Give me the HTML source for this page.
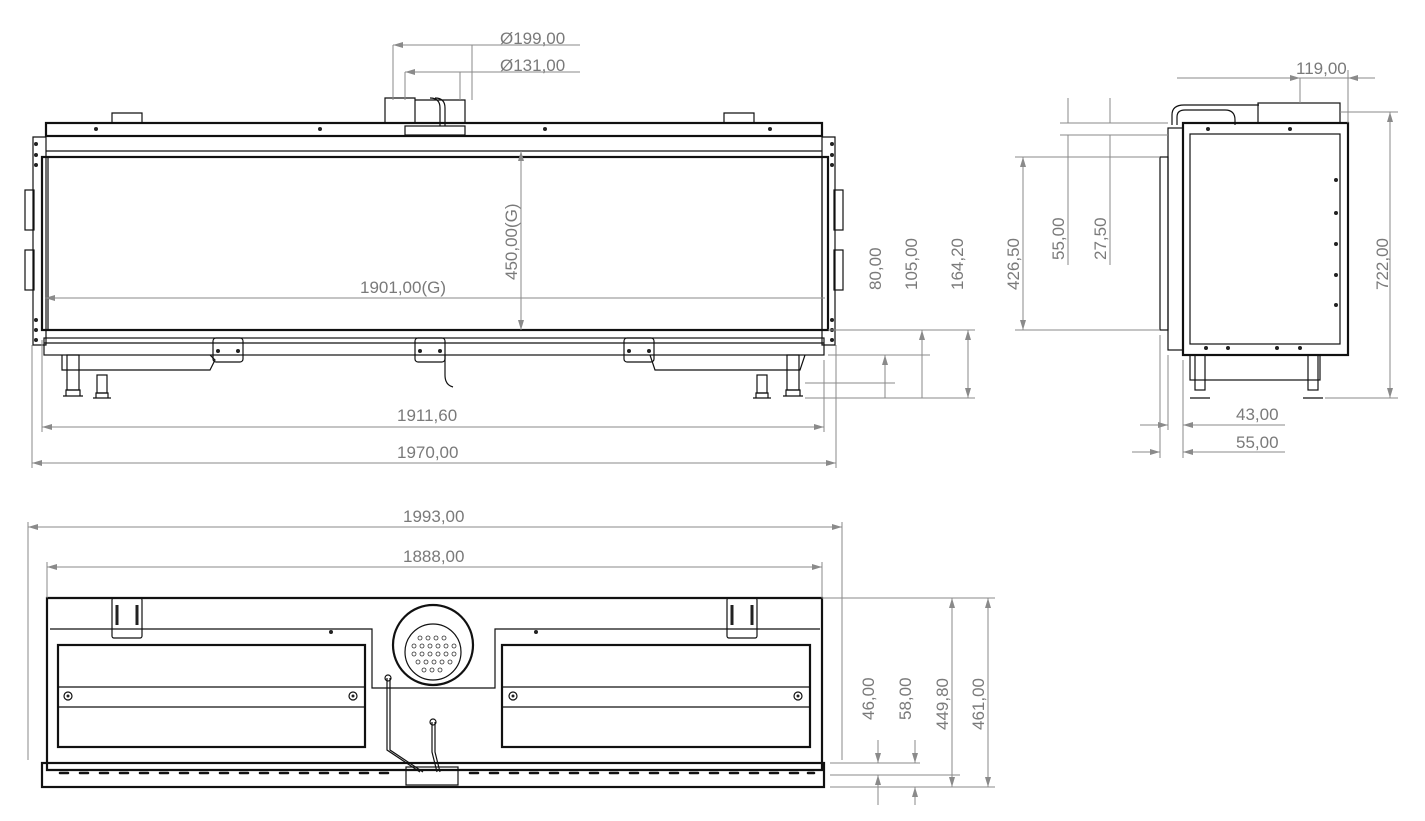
<!DOCTYPE html>
<html><head><meta charset="utf-8"><style>
html,body{margin:0;padding:0;background:#fff;}
svg{display:block;}
.d{stroke:#8a8a8a;stroke-width:1;fill:none;}
.t{font-family:"Liberation Sans",sans-serif;font-size:17px;fill:#7a7a7a;}
.k{stroke:#111;fill:none;stroke-width:1.2;}
.kb{stroke:#111;fill:none;stroke-width:2.2;}
.dot{fill:#222;}
</style></head><body>
<svg width="1425" height="821" viewBox="0 0 1425 821" xmlns="http://www.w3.org/2000/svg">
<defs>
<marker id="a" viewBox="0 0 10 6" refX="10" refY="3" markerWidth="10" markerHeight="6" orient="auto-start-reverse"><path d="M0,0L10,3L0,6z" fill="#8a8a8a"/></marker>
</defs>

<!-- ============ FRONT VIEW ============ -->
<g>
<rect x="46" y="123" width="776" height="13" class="kb"/>
<line x1="56" y1="136" x2="812" y2="136" class="k"/>
<line x1="46" y1="151" x2="822" y2="151" class="k"/>
<path d="M33,137 L33,345 L46,345 L46,137 Z" class="k"/>
<path d="M822,137 L822,345 L835,345 L835,137 Z" class="k"/>
<rect x="25" y="190" width="9" height="40" class="k"/><rect x="25" y="250" width="9" height="40" class="k"/>
<rect x="834" y="190" width="9" height="40" class="k"/><rect x="834" y="250" width="9" height="40" class="k"/>
<rect x="42" y="157" width="786" height="173" class="kb"/>
<line x1="48" y1="157" x2="48" y2="330" class="k"/><line x1="822" y1="157" x2="822" y2="330" class="k"/>
<rect x="44" y="338" width="780" height="17" class="k"/>
<line x1="44" y1="343" x2="824" y2="343" class="k"/>
<path d="M62,355 L62,370 L210,370 L215,360 L210,355" class="k"/>
<path d="M650,355 L655,370 L800,370 L805,355" class="k"/>
<!-- legs -->
<g class="k">
<rect x="67" y="355" width="12" height="35"/><path d="M63,396 h20 M66,390 h14 v6 h-14z"/>
<rect x="97" y="375" width="10" height="18"/><path d="M93,398 h18 M96,393 h12 v5 h-12z"/>
<rect x="787" y="355" width="12" height="35"/><path d="M783,396 h20 M786,390 h14 v6 h-14z"/>
<rect x="757" y="375" width="10" height="18"/><path d="M753,398 h18 M756,393 h12 v5 h-12z"/>
</g>
<!-- brackets -->
<g class="k">
<rect x="213" y="338" width="30" height="24" rx="3"/><rect x="415" y="338" width="30" height="24" rx="3"/><rect x="624" y="338" width="30" height="24" rx="3"/>
<path d="M112,123 v-10 h30 v10"/><path d="M724,123 v-10 h30 v10"/>
<path d="M385,123 v-25 h30 v25 M415,100 h50 v23"/>
<rect x="405" y="126" width="60" height="9"/>
<path d="M430,98 q10,0 10,10 v18 M435,98 q10,0 10,10 v18"/>
<path d="M445,355 v20 q0,10 8,12"/>
</g>
<g class="dot">
<circle cx="96" cy="129" r="2"/><circle cx="320" cy="129" r="2"/><circle cx="545" cy="129" r="2"/><circle cx="770" cy="129" r="2"/>
<circle cx="36" cy="144" r="2"/><circle cx="36" cy="155" r="2"/><circle cx="36" cy="165" r="2"/><circle cx="36" cy="320" r="2"/><circle cx="36" cy="330" r="2"/><circle cx="36" cy="340" r="2"/>
<circle cx="832" cy="144" r="2"/><circle cx="832" cy="155" r="2"/><circle cx="832" cy="165" r="2"/><circle cx="832" cy="320" r="2"/><circle cx="832" cy="330" r="2"/><circle cx="832" cy="340" r="2"/>
<circle cx="218" cy="351" r="2"/><circle cx="238" cy="351" r="2"/><circle cx="420" cy="351" r="2"/><circle cx="440" cy="351" r="2"/><circle cx="629" cy="351" r="2"/><circle cx="649" cy="351" r="2"/>
</g>
</g>
<!-- front dims -->
<g class="d">
<line x1="393" y1="45" x2="393" y2="100"/><line x1="472" y1="45" x2="472" y2="100"/>
<line x1="393" y1="45" x2="580" y2="45" marker-start="url(#a)"/><line x1="472" y1="45" x2="472" y2="45"/>
<line x1="405" y1="72" x2="405" y2="100"/><line x1="460" y1="72" x2="460" y2="100"/>
<line x1="405" y1="72" x2="580" y2="72" marker-start="url(#a)"/>
<line x1="45" y1="298" x2="825" y2="298" marker-start="url(#a)"/>
<line x1="521" y1="151" x2="521" y2="330" marker-start="url(#a)" marker-end="url(#a)"/>
<line x1="42" y1="340" x2="42" y2="432"/><line x1="824" y1="360" x2="824" y2="432"/>
<line x1="42" y1="427" x2="824" y2="427" marker-start="url(#a)" marker-end="url(#a)"/>
<line x1="32" y1="345" x2="32" y2="468"/><line x1="836" y1="345" x2="836" y2="468"/>
<line x1="32" y1="463" x2="836" y2="463" marker-start="url(#a)" marker-end="url(#a)"/>
<line x1="805" y1="398" x2="975" y2="398"/><line x1="805" y1="383" x2="895" y2="383"/>
<line x1="828" y1="355" x2="930" y2="355"/><line x1="828" y1="330" x2="975" y2="330"/>
<line x1="885" y1="355" x2="885" y2="383" marker-start="url(#a)"/><line x1="885" y1="383" x2="885" y2="398"/>
<line x1="922" y1="330" x2="922" y2="398" marker-start="url(#a)"/>
<line x1="968" y1="330" x2="968" y2="398" marker-start="url(#a)" marker-end="url(#a)"/>
</g>
<text class="t" x="500" y="44">Ø199,00</text>
<text class="t" x="500" y="71">Ø131,00</text>
<text class="t" x="360" y="293">1901,00(G)</text>
<text class="t" transform="translate(517,280) rotate(-90)">450,00(G)</text>
<text class="t" x="397" y="421">1911,60</text>
<text class="t" x="397" y="458">1970,00</text>
<text class="t" transform="translate(881,290) rotate(-90)">80,00</text>
<text class="t" transform="translate(917,290) rotate(-90)">105,00</text>
<text class="t" transform="translate(963,290) rotate(-90)">164,20</text>

<!-- ============ SIDE VIEW ============ -->
<g class="k">
<rect x="1183" y="123" width="165" height="232" class="kb"/>
<rect x="1190" y="134" width="150" height="210"/>
<rect x="1258" y="103" width="82" height="20"/>
<rect x="1160" y="157" width="8" height="173"/>
<rect x="1168" y="128" width="15" height="222"/>
<path d="M1172,125 v-10 q0,-10 12,-10 h75 M1177,125 v-8 q0,-7 8,-7 h40 q10,0 10,10 v5"/>
<rect x="1190" y="355" width="130" height="25"/>
<rect x="1195" y="355" width="10" height="35"/><path d="M1190,398 h20"/>
<rect x="1308" y="355" width="10" height="35"/><path d="M1303,398 h20"/>
</g>
<g class="dot">
<circle cx="1208" cy="129" r="2"/><circle cx="1290" cy="129" r="2"/><circle cx="1336" cy="180" r="2"/><circle cx="1336" cy="213" r="2"/><circle cx="1336" cy="244" r="2"/><circle cx="1336" cy="275" r="2"/><circle cx="1336" cy="305" r="2"/>
<circle cx="1206" cy="348" r="2"/><circle cx="1228" cy="348" r="2"/><circle cx="1277" cy="348" r="2"/><circle cx="1300" cy="348" r="2"/>
</g>
<g class="d">
<line x1="1177" y1="78" x2="1370" y2="78"/><line x1="1300" y1="78" x2="1300" y2="78"/>
<line x1="1300" y1="78" x2="1300" y2="103"/><line x1="1348" y1="70" x2="1348" y2="123"/>
<line x1="1270" y1="78" x2="1300" y2="78" marker-end="url(#a)"/><line x1="1375" y1="78" x2="1348" y2="78" marker-end="url(#a)"/>
<line x1="1340" y1="112" x2="1398" y2="112"/><line x1="1325" y1="398" x2="1398" y2="398"/>
<line x1="1390" y1="112" x2="1390" y2="398" marker-start="url(#a)" marker-end="url(#a)"/>
<line x1="1015" y1="157" x2="1160" y2="157"/><line x1="1015" y1="330" x2="1160" y2="330"/>
<line x1="1023" y1="157" x2="1023" y2="330" marker-start="url(#a)" marker-end="url(#a)"/>
<line x1="1060" y1="123" x2="1168" y2="123"/><line x1="1060" y1="135" x2="1168" y2="135"/>
<line x1="1068" y1="98" x2="1068" y2="123" /><line x1="1068" y1="135" x2="1068" y2="265"/>
<line x1="1110" y1="98" x2="1110" y2="123"/><line x1="1110" y1="135" x2="1110" y2="265"/>
<line x1="1160" y1="335" x2="1160" y2="458"/><line x1="1168" y1="355" x2="1168" y2="430"/><line x1="1183" y1="360" x2="1183" y2="458"/>
<line x1="1140" y1="425" x2="1168" y2="425" marker-end="url(#a)"/><line x1="1183" y1="425" x2="1285" y2="425" marker-start="url(#a)"/>
<line x1="1132" y1="452" x2="1160" y2="452" marker-end="url(#a)"/><line x1="1183" y1="452" x2="1285" y2="452" marker-start="url(#a)"/>
</g>
<text class="t" x="1296" y="74">119,00</text>
<text class="t" transform="translate(1388,290) rotate(-90)">722,00</text>
<text class="t" transform="translate(1019,290) rotate(-90)">426,50</text>
<text class="t" transform="translate(1064,260) rotate(-90)">55,00</text>
<text class="t" transform="translate(1106,260) rotate(-90)">27,50</text>
<text class="t" x="1236" y="420">43,00</text>
<text class="t" x="1236" y="448">55,00</text>

<!-- ============ BOTTOM VIEW ============ -->
<g class="k">
<path d="M47,598 H822 V770 H47 Z" class="kb"/>
<path d="M50,629 H372 V688 H495 V629 H820"/>
<rect x="58" y="645" width="307" height="102" class="kb"/>
<line x1="58" y1="687" x2="365" y2="687"/><line x1="58" y1="707" x2="365" y2="707"/>
<rect x="502" y="645" width="308" height="102" class="kb"/>
<line x1="502" y1="687" x2="810" y2="687"/><line x1="502" y1="707" x2="810" y2="707"/>
<circle cx="433" cy="645" r="40" class="kb"/>
<circle cx="433" cy="652" r="28"/>
<rect x="112" y="598" width="30" height="40" rx="2"/><rect x="727" y="598" width="30" height="40" rx="2"/>
<rect x="42" y="763" width="782" height="24" class="kb"/>
<rect x="406" y="767" width="52" height="18"/>
<path d="M387,678 V750 L420,772 M390,678 V750 L423,772 M432,722 V752 L437,772 M435,722 V752 L440,772"/>
<circle cx="388" cy="678" r="3"/><circle cx="433" cy="722" r="3"/>
<circle cx="68" cy="696" r="4"/><circle cx="353" cy="696" r="4"/><circle cx="513" cy="696" r="4"/><circle cx="798" cy="696" r="4"/>
</g>
<g class="dot">
<circle cx="68" cy="696" r="1.5"/><circle cx="353" cy="696" r="1.5"/><circle cx="513" cy="696" r="1.5"/><circle cx="798" cy="696" r="1.5"/>
<circle cx="331" cy="632" r="2"/><circle cx="536" cy="632" r="2"/>
</g>
<g fill="none" stroke="#222" stroke-width="1">
<path d="M117,605 v20 M137,605 v20 M732,605 v20 M752,605 v20" stroke-width="3"/>
</g>
<g fill="none" stroke="#333" stroke-width="0.8">
<circle cx="420" cy="638" r="2"/><circle cx="428" cy="638" r="2"/><circle cx="436" cy="638" r="2"/><circle cx="444" cy="638" r="2"/>
<circle cx="414" cy="646" r="2"/><circle cx="422" cy="646" r="2"/><circle cx="430" cy="646" r="2"/><circle cx="438" cy="646" r="2"/><circle cx="446" cy="646" r="2"/><circle cx="454" cy="646" r="2"/>
<circle cx="414" cy="654" r="2"/><circle cx="422" cy="654" r="2"/><circle cx="430" cy="654" r="2"/><circle cx="438" cy="654" r="2"/><circle cx="446" cy="654" r="2"/><circle cx="454" cy="654" r="2"/>
<circle cx="418" cy="662" r="2"/><circle cx="426" cy="662" r="2"/><circle cx="434" cy="662" r="2"/><circle cx="442" cy="662" r="2"/><circle cx="450" cy="662" r="2"/>
<circle cx="424" cy="670" r="2"/><circle cx="432" cy="670" r="2"/><circle cx="440" cy="670" r="2"/>
</g>
<g stroke="#111" stroke-width="2.5" stroke-linecap="round">
<path d="M60,773 h8 M80,773 h8 M100,773 h8 M120,773 h8 M140,773 h8 M160,773 h8 M180,773 h8 M200,773 h8 M220,773 h8 M240,773 h8 M260,773 h8 M280,773 h8 M300,773 h8 M320,773 h8 M340,773 h8 M360,773 h8 M380,773 h8
M470,773 h8 M490,773 h8 M510,773 h8 M530,773 h8 M550,773 h8 M570,773 h8 M590,773 h8 M610,773 h8 M630,773 h8 M650,773 h8 M670,773 h8 M690,773 h8 M710,773 h8 M730,773 h8 M750,773 h8 M770,773 h8 M790,773 h8 M808,773 h6"/>
</g>
<g class="d">
<line x1="28" y1="522" x2="28" y2="760"/><line x1="842" y1="522" x2="842" y2="760"/>
<line x1="28" y1="527" x2="842" y2="527" marker-start="url(#a)" marker-end="url(#a)"/>
<line x1="47" y1="562" x2="47" y2="598"/><line x1="822" y1="562" x2="822" y2="598"/>
<line x1="47" y1="567" x2="822" y2="567" marker-start="url(#a)" marker-end="url(#a)"/>
<line x1="822" y1="598" x2="995" y2="598"/><line x1="830" y1="763" x2="920" y2="763"/>
<line x1="830" y1="775" x2="960" y2="775"/><line x1="830" y1="787" x2="995" y2="787"/>
<line x1="878" y1="740" x2="878" y2="763" marker-end="url(#a)"/><line x1="878" y1="805" x2="878" y2="775" marker-end="url(#a)"/>
<line x1="915" y1="740" x2="915" y2="763" marker-end="url(#a)"/><line x1="915" y1="805" x2="915" y2="787" marker-end="url(#a)"/>
<line x1="952" y1="598" x2="952" y2="787" marker-start="url(#a)" marker-end="url(#a)"/>
<line x1="988" y1="598" x2="988" y2="787" marker-start="url(#a)" marker-end="url(#a)"/>
</g>
<text class="t" x="403" y="522">1993,00</text>
<text class="t" x="403" y="562">1888,00</text>
<text class="t" transform="translate(874,720) rotate(-90)">46,00</text>
<text class="t" transform="translate(911,720) rotate(-90)">58,00</text>
<text class="t" transform="translate(948,730) rotate(-90)">449,80</text>
<text class="t" transform="translate(984,730) rotate(-90)">461,00</text>
</svg>
</body></html>
